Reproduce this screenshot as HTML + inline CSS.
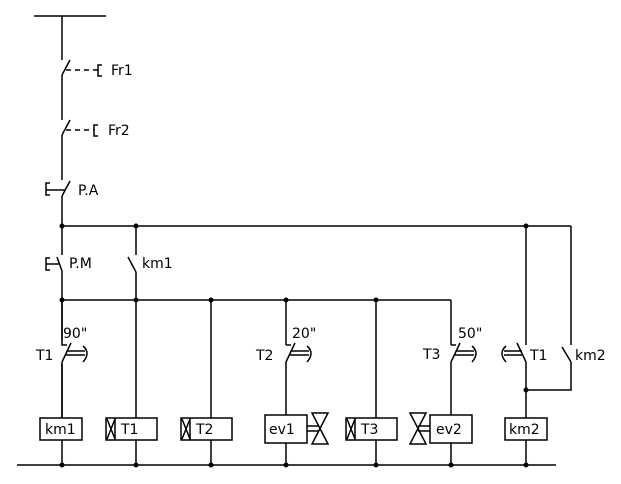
<!DOCTYPE html>
<html><head><style>body{margin:0;background:#fff}svg{display:block}text{font-family:"DejaVu Sans","Liberation Sans",sans-serif;font-size:14px;fill:#000}</style></head>
<body>
<svg width="621" height="484" viewBox="0 0 621 484" xmlns="http://www.w3.org/2000/svg" stroke="#000" stroke-width="1.5" fill="none">
<line x1="34" y1="16" x2="106" y2="16"/>
<polyline points="62,16 62,60"/>
<line x1="62" y1="75" x2="70" y2="60"/>
<polyline points="62,75 62,120"/>
<line x1="66" y1="70" x2="98" y2="70" stroke-dasharray="5,4"/>
<polyline points="102,65 98,65 98,76 102,76"/>
<line x1="62" y1="135" x2="70" y2="120"/>
<polyline points="62,135 62,180"/>
<line x1="66" y1="130" x2="94" y2="130" stroke-dasharray="5,4"/>
<polyline points="98,125 94,125 94,136 98,136"/>
<line x1="62" y1="196" x2="70" y2="181"/>
<polyline points="62,196 62,255"/>
<line x1="46" y1="190" x2="65" y2="190"/>
<polyline points="50,183 46,183 46,195 50,195"/>
<line x1="62" y1="226" x2="571" y2="226"/>
<line x1="57" y1="257" x2="62" y2="271"/>
<line x1="62" y1="271" x2="62" y2="465"/>
<line x1="46" y1="264" x2="59" y2="264"/>
<polyline points="50,258 46,258 46,270 50,270"/>
<line x1="136" y1="226" x2="136" y2="255"/>
<line x1="128" y1="257" x2="136" y2="272"/>
<line x1="136" y1="272" x2="136" y2="465"/>
<line x1="62" y1="300" x2="451" y2="300"/>
<line x1="211" y1="300" x2="211" y2="465"/>
<line x1="376" y1="300" x2="376" y2="465"/>
<line x1="17" y1="465" x2="556" y2="465"/>
<rect x="50" y="340" width="20" height="24" fill="#fff" stroke="none"/>
<polyline points="62,300 62,345 67,345"/>
<line x1="62" y1="362" x2="71" y2="343"/>
<line x1="62" y1="362" x2="62" y2="420"/>
<line x1="67" y1="351" x2="85" y2="351"/><line x1="66" y1="355" x2="85" y2="355"/>
<path d="M83,346 Q91,353 83,362"/>
<line x1="286" y1="300" x2="286" y2="345"/>
<polyline points="286,345 291,345"/>
<line x1="286" y1="362" x2="295" y2="343"/>
<line x1="286" y1="362" x2="286" y2="465"/>
<line x1="291" y1="351" x2="309" y2="351"/><line x1="290" y1="355" x2="309" y2="355"/>
<path d="M307,346 Q315,353 307,362"/>
<line x1="451" y1="300" x2="451" y2="345"/>
<polyline points="451,345 456,345"/>
<line x1="451" y1="362" x2="460" y2="343"/>
<line x1="451" y1="362" x2="451" y2="465"/>
<line x1="456" y1="351" x2="474" y2="351"/><line x1="455" y1="355" x2="474" y2="355"/>
<path d="M472,346 Q480,353 472,362"/>
<line x1="526" y1="226" x2="526" y2="345"/>
<line x1="526" y1="362" x2="517" y2="343"/>
<line x1="526" y1="362" x2="526" y2="465"/>
<line x1="504" y1="351" x2="522" y2="351"/><line x1="504" y1="355" x2="523" y2="355"/>
<path d="M506,346 Q498,353 506,362"/>
<line x1="571" y1="226" x2="571" y2="345"/>
<line x1="562" y1="347" x2="571" y2="362"/>
<polyline points="571,362 571,390 526,390"/>
<g fill="#fff">
<rect x="40" y="418" width="42" height="22"/>
<rect x="106" y="418" width="51" height="22"/>
<rect x="181" y="418" width="51" height="22"/>
<rect x="265" y="415" width="42" height="28"/>
<rect x="346" y="418" width="51" height="22"/>
<rect x="430" y="415" width="42" height="28"/>
<rect x="505" y="418" width="42" height="22"/>
</g>
<g>
<line x1="115" y1="418" x2="115" y2="440"/><path d="M107,419 L115,439 M115,419 L107,439"/>
<line x1="190" y1="418" x2="190" y2="440"/><path d="M182,419 L190,439 M190,419 L182,439"/>
<line x1="355" y1="418" x2="355" y2="440"/><path d="M347,419 L355,439 M355,419 L347,439"/>
</g>
<line x1="307" y1="426" x2="319" y2="426"/><line x1="307" y1="431" x2="319" y2="431"/>
<path d="M312,413 L328,413 L312,444 L328,444 Z"/>
<line x1="418" y1="426" x2="430" y2="426"/><line x1="418" y1="431" x2="430" y2="431"/>
<path d="M410,413 L426,413 L410,444 L426,444 Z"/>
<g fill="#000" stroke="none">
<circle cx="62" cy="226" r="2.5"/><circle cx="136" cy="226" r="2.5"/><circle cx="526" cy="226" r="2.5"/>
<circle cx="62" cy="300" r="2.5"/><circle cx="136" cy="300" r="2.5"/><circle cx="211" cy="300" r="2.5"/><circle cx="286" cy="300" r="2.5"/><circle cx="376" cy="300" r="2.5"/>
<circle cx="526" cy="390" r="2.5"/>
<circle cx="62" cy="465" r="2.5"/><circle cx="136" cy="465" r="2.5"/><circle cx="211" cy="465" r="2.5"/><circle cx="286" cy="465" r="2.5"/><circle cx="376" cy="465" r="2.5"/><circle cx="451" cy="465" r="2.5"/><circle cx="526" cy="465" r="2.5"/>
</g>
<g stroke="none">
<text x="111" y="75">Fr1</text>
<text x="108" y="135">Fr2</text>
<text x="78" y="195">P.A</text>
<text x="69" y="268">P.M</text>
<text x="142" y="268">km1</text>
<text x="63" y="338">90"</text>
<text x="36" y="360">T1</text>
<text x="292" y="338">20"</text>
<text x="256" y="360">T2</text>
<text x="458" y="338">50"</text>
<text x="423" y="359">T3</text>
<text x="530" y="360">T1</text>
<text x="575" y="360">km2</text>
<text x="45" y="434">km1</text>
<text x="121" y="434">T1</text>
<text x="196" y="434">T2</text>
<text x="269" y="434">ev1</text>
<text x="361" y="434">T3</text>
<text x="436" y="434">ev2</text>
<text x="509" y="434">km2</text>
</g>
</svg>
</body></html>
